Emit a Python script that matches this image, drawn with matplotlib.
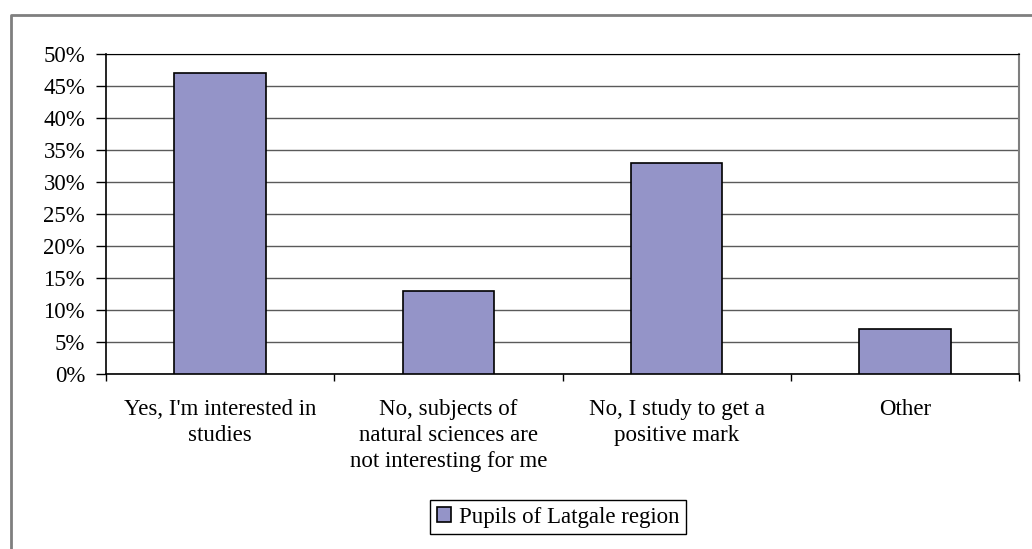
import matplotlib
matplotlib.use("Agg")
import matplotlib.pyplot as plt
from matplotlib.lines import Line2D
from matplotlib.ticker import FixedLocator, PercentFormatter

categories = [
    "Yes, I'm interested in\nstudies",
    "No, subjects of\nnatural sciences are\nnot interesting for me",
    "No, I study to get a\npositive mark",
    "Other",
]
values = [47, 13, 33, 7]
series_name = "Pupils of Latgale region"
yticks = list(range(0, 51, 5))

W, H = 1032, 549
plt.rcParams["font.family"] = ["Liberation Serif", "DejaVu Serif"]
plt.rcParams["font.size"] = 16.5

fig = plt.figure(figsize=(W / 100, H / 100), dpi=100)
fig.patch.set_facecolor("white")

# outer chart frame (left and top edges)
fig.add_artist(Line2D([11 / W, 11 / W, 1.0], [0.0, 1 - 15 / H, 1 - 15 / H],
                      transform=fig.transFigure, color="#7f7f7f", lw=2))

left, right, top, bottom = 106, 1019, 54, 374
ax = fig.add_axes([left / W, 1 - bottom / H, (right - left) / W, (bottom - top) / H])

x = list(range(len(categories)))
ax.bar(x, values, width=0.4, color="#9494C8", edgecolor="black", linewidth=1.2,
       zorder=3, label=series_name)

ax.set_xlim(-0.5, len(categories) - 0.5)
ax.set_ylim(0, 50)
ax.set_yticks(yticks)
ax.yaxis.set_major_formatter(PercentFormatter(decimals=0))
ax.yaxis.grid(True, color="#5a5a5a", linewidth=1, zorder=0)
ax.set_axisbelow(True)

ax.set_xticks(x)
ax.set_xticklabels(categories, va="top", linespacing=1.3)
ax.xaxis.set_minor_locator(FixedLocator([i + 0.5 for i in range(-1, len(categories))]))
ax.tick_params(axis="x", which="major", length=0, pad=18)
ax.tick_params(axis="x", which="minor", length=5, width=1, color="black")
ax.tick_params(axis="y", length=7, width=1, color="black", pad=8)

for s in ["left", "bottom"]:
    ax.spines[s].set_color("black")
    ax.spines[s].set_linewidth(1.2)
ax.spines["top"].set_color("black")
ax.spines["right"].set_color("#7f7f7f")
ax.spines["right"].set_linewidth(1.5)

leg = fig.legend(loc="center", bbox_to_anchor=(558 / W, 1 - 517 / H),
                 fancybox=False, edgecolor="black", framealpha=1,
                 handlelength=0.6, handleheight=0.6, handletextpad=0.35,
                 borderpad=0.3, fontsize=16.5)
leg.get_frame().set_linewidth(1)

fig.savefig("out.png", dpi=100, facecolor="white")
